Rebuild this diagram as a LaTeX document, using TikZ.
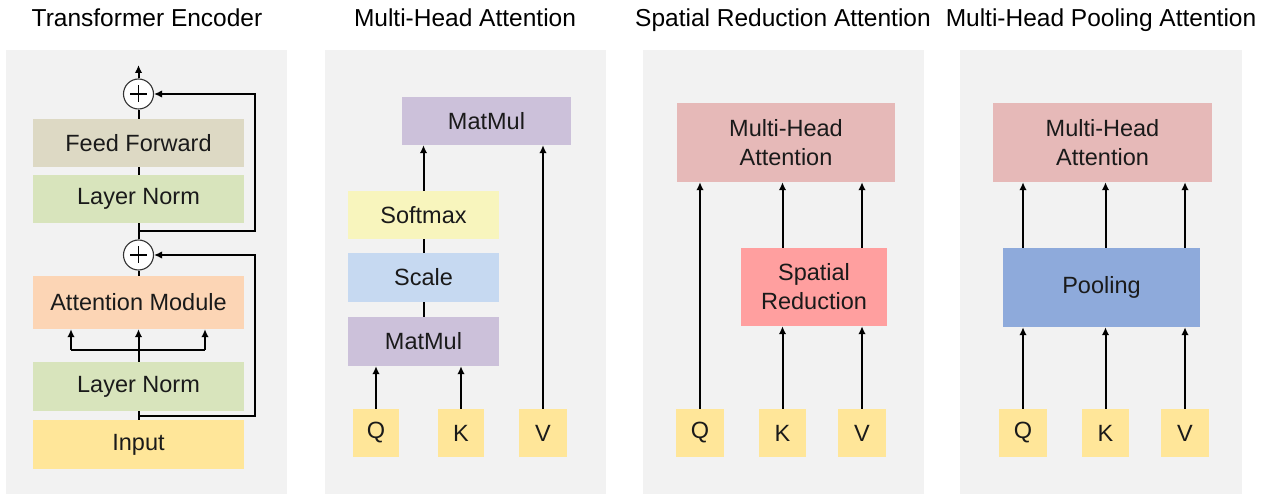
\documentclass[tikz,border=0pt]{standalone}
\usepackage{fontspec}
\setmainfont{Liberation Sans}
\usetikzlibrary{arrows.meta,calc}
\definecolor{panelbg}{HTML}{F2F2F2}
\definecolor{ffc}{HTML}{DDD9C4}
\definecolor{lnc}{HTML}{D8E4BC}
\definecolor{amc}{HTML}{FCD5B5}
\definecolor{inc}{HTML}{FFE699}
\definecolor{mmc}{HTML}{CCC1DA}
\definecolor{smc}{HTML}{F8F5BD}
\definecolor{scc}{HTML}{C6D9F1}
\definecolor{mhac}{HTML}{E6B9B8}
\definecolor{src}{HTML}{FF9F9F}
\definecolor{plc}{HTML}{8EAADB}
\definecolor{txt}{HTML}{1A1A1A}
\tikzset{
  box/.style={inner sep=0pt, align=center, text=txt, font=\fontsize{23.5}{29}\selectfont},
  ttl/.style={anchor=base, text=black, font=\fontsize{24.5}{29}\selectfont},
  ln/.style={line width=2pt, draw=black},
  arr/.style={line width=2pt, draw=black, -{Latex[length=8pt,width=7.5pt]}},
  plus/.style={circle, draw=black!80, line width=1.1pt, fill=white, minimum size=30pt, inner sep=0pt},
}
\begin{document}
\begin{tikzpicture}[x=1pt,y=-1pt]
\useasboundingbox (0,0) rectangle (1272,494);
% panels
\fill[panelbg] (6,50) rectangle (287,494);
\fill[panelbg] (325,50) rectangle (606,494);
\fill[panelbg] (643,50) rectangle (924,494);
\fill[panelbg] (960,50) rectangle (1242,494);
% titles
\node[ttl] (t1) at (147,27) {Transformer Encoder};
\node[ttl] (t2) at (465,27) {Multi-Head Attention};
\node[ttl] (t3) at (783,27) {Spatial Reduction Attention};
\node[ttl] (t4) at (1101,27) {Multi-Head Pooling Attention};

% ---------- Panel 1: Transformer Encoder
\node[box, fill=ffc, minimum width=211pt, minimum height=48pt] (ff) at (138.5,143) {Feed Forward};
\node[box, fill=lnc, minimum width=211pt, minimum height=48pt] (ln1) at (138.5,199) {Layer Norm};
\node[box, fill=amc, minimum width=211pt, minimum height=53pt] (am) at (138.5,302.5) {Attention Module};
\node[box, fill=lnc, minimum width=211pt, minimum height=49pt] (ln2) at (138.5,386.5) {Layer Norm};
\node[box, fill=inc, minimum width=211pt, minimum height=49pt] (in) at (138.5,444.5) {Input};
\node[plus] (c1) at (138.5,94) {};
\node[plus] (c2) at (138.5,255) {};
\foreach \c in {c1,c2}{
  \draw[line width=1.8pt] ($(\c.center)+(-8.5,0)$) -- ($(\c.center)+(8.5,0)$);
  \draw[line width=1.8pt] ($(\c.center)+(0,-8.5)$) -- ($(\c.center)+(0,8.5)$);
}
\coordinate (top1) at (138.5,65);
\coordinate (b1) at (138.5,231);
\coordinate (b2) at (138.5,416);
\coordinate (br) at (138.5,350);
\coordinate (brl) at (71,350);
\coordinate (brr) at (205,350);
\draw[arr] (c1) -- (top1);
\draw[ln] (ff) -- (c1);
\draw[ln] (ln1) -- (ff);
\draw[ln] (ln1) -- (c2);
\draw[ln] (c2) -- (am);
\draw[ln] (in) -- (ln2);
\draw[ln] (ln2) -- (br);
\draw[ln] (brl) -- (brr);
\draw[arr] (br) -- (am.south);
\draw[arr] (brl) -- (brl |- am.south);
\draw[arr] (brr) -- (brr |- am.south);
\draw[arr] (b1) -- ++(116,0) |- (c1);
\draw[arr] (b2) -- ++(116,0) |- (c2);

% ---------- Panel 2: Multi-Head Attention
\node[box, fill=mmc, minimum width=169pt, minimum height=48pt] (mm2) at (486.5,121) {MatMul};
\node[box, fill=smc, minimum width=151pt, minimum height=48pt] (sm) at (423.5,215) {Softmax};
\node[box, fill=scc, minimum width=151pt, minimum height=49pt] (sc) at (423.5,277.5) {Scale};
\node[box, fill=mmc, minimum width=151pt, minimum height=49pt] (mm1) at (423.5,341.5) {MatMul};
\node[box, fill=inc, minimum width=46pt, minimum height=48pt] (q2) at (376,433) {Q};
\node[box, fill=inc, minimum width=46pt, minimum height=48pt] (k2) at (461,433) {K};
\node[box, fill=inc, minimum width=48pt, minimum height=48pt] (v2) at (543,433) {V};
\draw[arr] (q2) -- (q2 |- mm1.south);
\draw[arr] (k2) -- (k2 |- mm1.south);
\draw[arr] (v2) -- (v2 |- mm2.south);
\draw[ln] (mm1) -- (sc);
\draw[ln] (sc) -- (sm);
\draw[arr] (sm) -- (sm |- mm2.south);

% ---------- Panel 3: Spatial Reduction Attention
\node[box, fill=mhac, minimum width=218pt, minimum height=79pt] (mha3) at (786,142.5) {Multi-Head\\Attention};
\node[box, fill=src, minimum width=146pt, minimum height=78pt] (sr) at (814,287) {Spatial\\Reduction};
\node[box, fill=inc, minimum width=48pt, minimum height=48pt] (q3) at (700,433) {Q};
\node[box, fill=inc, minimum width=47pt, minimum height=48pt] (k3) at (782.5,433) {K};
\node[box, fill=inc, minimum width=48pt, minimum height=48pt] (v3) at (862,433) {V};
\draw[arr] (q3) -- (q3 |- mha3.south);
\draw[arr] (k3) -- (k3 |- sr.south);
\draw[arr] (v3) -- (v3 |- sr.south);
\draw[arr] (k3 |- sr.north) -- (k3 |- mha3.south);
\draw[arr] (v3 |- sr.north) -- (v3 |- mha3.south);

% ---------- Panel 4: Multi-Head Pooling Attention
\node[box, fill=mhac, minimum width=219pt, minimum height=79pt] (mha4) at (1102.5,142.5) {Multi-Head\\Attention};
\node[box, fill=plc, minimum width=197pt, minimum height=79pt] (pool) at (1101.5,287.5) {Pooling};
\node[box, fill=inc, minimum width=48pt, minimum height=48pt] (q4) at (1023,433) {Q};
\node[box, fill=inc, minimum width=47pt, minimum height=48pt] (k4) at (1105.5,433) {K};
\node[box, fill=inc, minimum width=48pt, minimum height=48pt] (v4) at (1185,433) {V};
\foreach \n in {q4,k4,v4}{
  \draw[arr] (\n) -- (\n |- pool.south);
  \draw[arr] (\n |- pool.north) -- (\n |- mha4.south);
}
\end{tikzpicture}
\end{document}
